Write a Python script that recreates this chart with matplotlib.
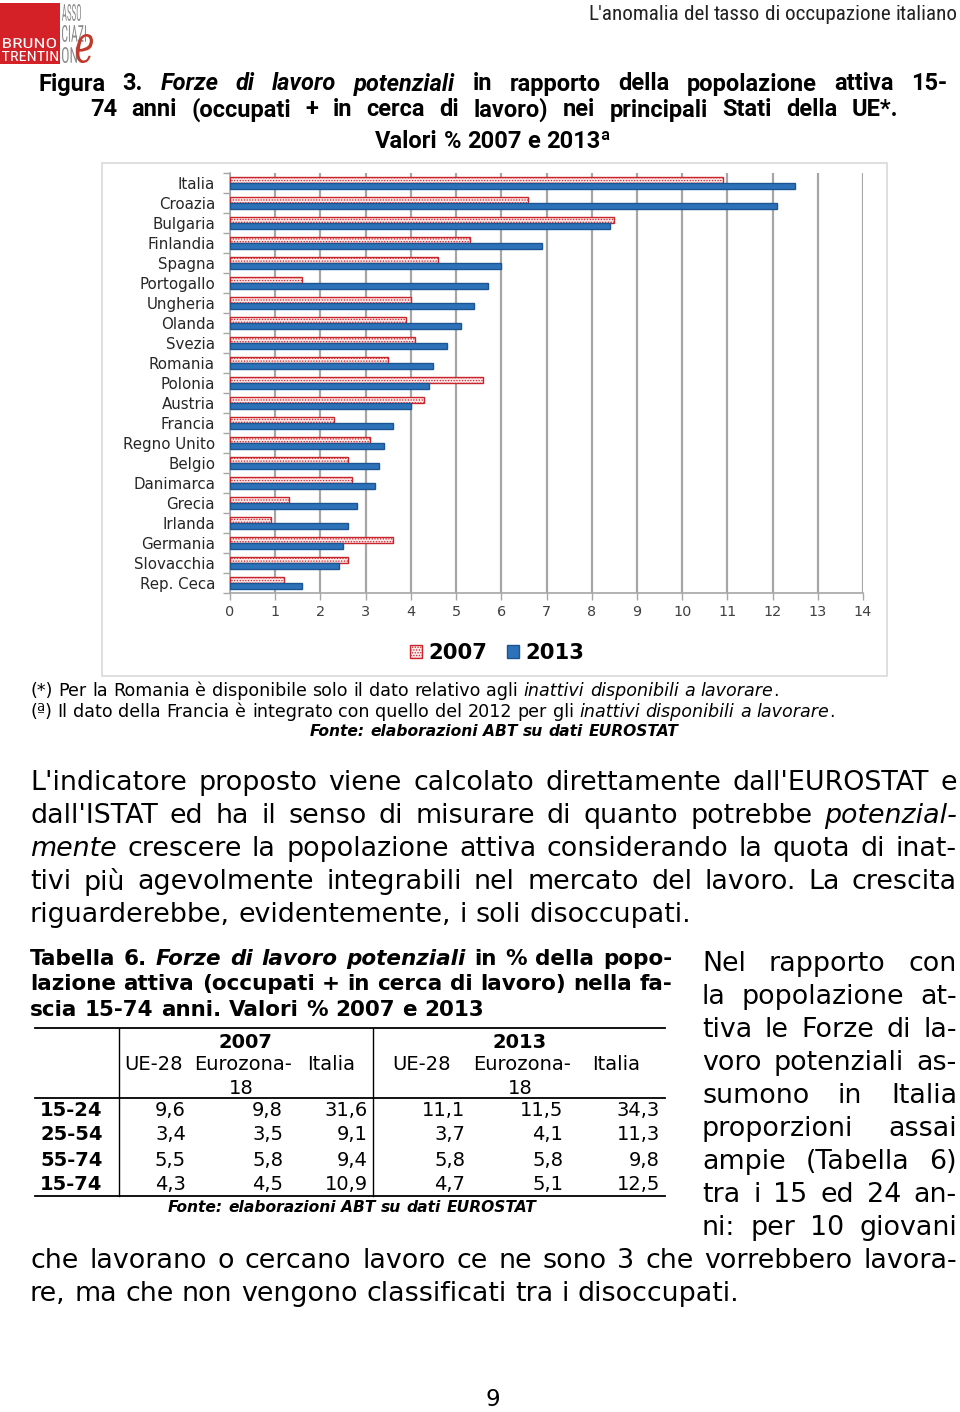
import matplotlib
matplotlib.use('Agg')
import matplotlib.pyplot as plt
from matplotlib import font_manager as fm
from matplotlib.patches import Rectangle, PathPatch
from matplotlib.textpath import TextPath
from matplotlib.transforms import Affine2D
import numpy as np

# ---------------- data ----------------
countries = ['Italia', 'Croazia', 'Bulgaria', 'Finlandia', 'Spagna', 'Portogallo',
             'Ungheria', 'Olanda', 'Svezia', 'Romania', 'Polonia', 'Austria',
             'Francia', 'Regno Unito', 'Belgio', 'Danimarca', 'Grecia', 'Irlanda',
             'Germania', 'Slovacchia', 'Rep. Ceca']
v2007 = [10.9, 6.6, 8.5, 5.3, 4.6, 1.6, 4.0, 3.9, 4.1, 3.5, 5.6, 4.3,
         2.3, 3.1, 2.6, 2.7, 1.3, 0.9, 3.6, 2.6, 1.2]
v2013 = [12.5, 12.1, 8.4, 6.9, 6.0, 5.7, 5.4, 5.1, 4.8, 4.5, 4.4, 4.0,
         3.6, 3.4, 3.3, 3.2, 2.8, 2.6, 2.5, 2.4, 1.6]
series_labels = ['2007', '2013']
xticks = list(range(0, 15))

age_groups = ['15-24', '25-54', '55-74', '15-74']
table_years = ['2007', '2013']
table_cols = ['UE-28', 'Eurozona-', 'Italia']
t2007_ue28 = [9.6, 3.4, 5.5, 4.3]
t2007_ez18 = [9.8, 3.5, 5.8, 4.5]
t2007_ita = [31.6, 9.1, 9.4, 10.9]
t2013_ue28 = [11.1, 3.7, 5.8, 4.7]
t2013_ez18 = [11.5, 4.1, 5.8, 5.1]
t2013_ita = [34.3, 11.3, 9.8, 12.5]

# ---------------- fonts ----------------
def available(name, **kw):
    try:
        fm.findfont(fm.FontProperties(family=name, **kw), fallback_to_default=False)
        return True
    except Exception:
        return False

NARROW = 'Roboto'
for cand in ['Liberation Sans Narrow', 'DejaVu Sans Condensed', 'Roboto Condensed',
             'Open Sans Condensed']:
    if available(cand):
        NARROW = cand
        break
TITLE = 'Roboto' if available('Roboto') else 'DejaVu Sans'
BODY = 'DejaVu Sans'

W, H = 960, 1412
fig = plt.figure(figsize=(W / 100, H / 100), dpi=100)
bg = fig.add_axes([0, 0, 1, 1], zorder=0)
bg.set_xlim(0, W)
bg.set_ylim(H, 0)
bg.axis('off')
renderer = fig.canvas.get_renderer()

_cache = {}
def tw(s, fs, family, weight='normal', style='normal'):
    key = (s, round(fs, 4), family, weight, style)
    if key not in _cache:
        t = bg.text(0, 0, s, fontsize=fs, family=family, weight=weight, style=style)
        _cache[key] = t.get_window_extent(renderer).width
        t.remove()
    return _cache[key]

def parse(line):
    words = []
    ital = False
    for raw in line.split():
        parts, buf = [], ''
        for ch in raw:
            if ch == '|':
                if buf:
                    parts.append((buf, ital))
                    buf = ''
                ital = not ital
            else:
                buf += ch
        if buf:
            parts.append((buf, ital))
        words.append(parts)
    return words

def word_widths(words, fs, family, weight):
    return [sum(tw(p, fs, family, weight, 'italic' if it else 'normal') for p, it in wd)
            for wd in words]

def space_w(fs, family, weight):
    return tw('a a', fs, family, weight) - tw('aa', fs, family, weight)

def line_width(line, fs, family, weight='normal'):
    words = parse(line)
    ws = word_widths(words, fs, family, weight)
    return sum(ws) + space_w(fs, family, weight) * (len(ws) - 1)

def fit_fs(line, target, family, weight='normal'):
    return 10.0 * target / line_width(line, 10.0, family, weight)

def draw_line(line, x, y, fs, family, weight='normal', just=None, ha='left',
              color='black'):
    words = parse(line)
    ws = word_widths(words, fs, family, weight)
    if just is not None and len(words) > 1:
        gap = (just - sum(ws)) / (len(words) - 1)
    else:
        gap = space_w(fs, family, weight)
    total = sum(ws) + gap * (len(ws) - 1)
    x0 = x if ha == 'left' else (x - total / 2 if ha == 'center' else x - total)
    for wd, w in zip(words, ws):
        xx = x0
        for p, it in wd:
            st = 'italic' if it else 'normal'
            bg.text(xx, y, p, fontsize=fs, family=family, weight=weight, style=st,
                    ha='left', va='center', color=color)
            xx += tw(p, fs, family, weight, st)
        x0 += w + gap

def box_text(s, x0, x1, ytop, ybot, color, family, weight='normal', style='normal'):
    tp = TextPath((0, 0), s, size=10,
                  prop=fm.FontProperties(family=family, weight=weight, style=style))
    ext = tp.get_extents()
    sx = (x1 - x0) / ext.width
    sy = (ybot - ytop) / ext.height
    tr = Affine2D().translate(-ext.x0, -ext.y0).scale(sx, -sy).translate(x0, ybot)
    bg.add_patch(PathPatch(tr.transform_path(tp), facecolor=color, edgecolor='none'))

# ---------------- logo & header ----------------
bg.add_patch(Rectangle((0, 3), 60, 61, facecolor='#d42127', edgecolor='none'))
box_text('BRUNO', 3, 56, 38, 48, 'white', NARROW)
box_text('TRENTIN', 2, 58, 51, 61, 'white', NARROW)
box_text('ASSO', 62, 81, 4, 21, '#8c8c8c', NARROW)
box_text('CIAZI', 62, 86, 25, 42, '#8c8c8c', NARROW)
box_text('ON', 62, 77, 47, 63, '#8c8c8c', NARROW)
box_text('e', 76, 93, 34, 63, '#c0392b', 'DejaVu Serif', style='italic')

hdr = "L'anomalia del tasso di occupazione italiano"
fs_h = fit_fs(hdr, 380, NARROW)
draw_line(hdr, 958, 14, fs_h * 0.97, NARROW, ha='right', color='#222222')

# ---------------- chart title ----------------
t1 = "Figura 3. |Forze di lavoro potenziali| in rapporto della popolazione attiva 15-"
t2 = "74 anni (occupati + in cerca di lavoro) nei principali Stati della UE*."
t3 = "Valori % 2007 e 2013ª"
fs_t = min(fit_fs(t1, 890, TITLE, 'bold'), 17.0)
draw_line(t1, 38, 84, fs_t, TITLE, 'bold', just=909)
draw_line(t2, 90, 110, fs_t, TITLE, 'bold', just=808)
draw_line(t3, 493, 141, fs_t, TITLE, 'bold', ha='center')

# ---------------- chart ----------------
bg.add_patch(Rectangle((102, 163), 785, 513, facecolor='none', edgecolor='#d9d9d9', lw=1.2))

ax = fig.add_axes([230 / W, 1 - 593 / H, (863 - 230) / W, (593 - 173) / H], zorder=2)
ax.patch.set_alpha(0)
plt.rcParams['hatch.linewidth'] = 0.6
y = np.arange(len(countries))
b1 = ax.barh(y - 0.15, v2007, height=0.3, color='#fde9e9', edgecolor='#c8262c',
             hatch='......', linewidth=1.0, label=series_labels[0], zorder=3)
b2 = ax.barh(y + 0.15, v2013, height=0.3, color='#2d72b8', edgecolor='#1b5593',
             linewidth=1.0, label=series_labels[1], zorder=3)
ax.set_xlim(0, 14)
ax.set_ylim(len(countries) - 0.5, -0.5)
ax.set_xticks(xticks)
ax.set_yticks(y)
fs_cat = fit_fs('Regno Unito', 92, BODY)
ax.set_yticklabels(countries, fontsize=fs_cat, color='#262626', family=BODY)
ax.set_yticks(np.arange(-0.5, len(countries)), minor=True)
ax.tick_params(axis='y', which='major', length=0, pad=10.8)
ax.tick_params(axis='y', which='minor', length=5, width=1, color='#a6a6a6', direction='out')
ax.tick_params(axis='x', length=5, width=1, color='#a6a6a6', labelsize=fs_cat * 0.95,
               labelcolor='#404040', pad=4)
ax.grid(axis='x', color='#a6a6a6', lw=1.6, zorder=0)
ax.set_axisbelow(True)
for s in ['top', 'right']:
    ax.spines[s].set_visible(False)
for s in ['left', 'bottom']:
    ax.spines[s].set_color('#a6a6a6')
    ax.spines[s].set_linewidth(1.2)

fig.legend([b1, b2], series_labels, loc='center',
           bbox_to_anchor=(497 / W, 1 - 653 / H), ncol=2, frameon=False,
           handlelength=0.6, handleheight=0.6, handletextpad=0.3, columnspacing=0.9,
           prop=fm.FontProperties(family=BODY, weight='bold', size=15.2))

# ---------------- footnotes ----------------
f1 = "(*) Per la Romania è disponibile solo il dato relativo agli |inattivi disponibili a lavorare|."
f2 = "(ª) Il dato della Francia è integrato con quello del 2012 per gli |inattivi disponibili a lavorare|."
f3 = "|Fonte: elaborazioni ABT su dati EUROSTAT|"
fs_f = fit_fs(f1, 747, BODY)
draw_line(f1, 30, 691, fs_f, BODY)
draw_line(f2, 30, 712, fs_f, BODY)
fs_f3 = fit_fs(f3, 368, BODY, 'bold')
draw_line(f3, 494, 732, fs_f3, BODY, 'bold', ha='center')

# ---------------- body paragraph ----------------
body = ["L'indicatore proposto viene calcolato direttamente dall'EUROSTAT e",
        "dall'ISTAT ed ha il senso di misurare di quanto potrebbe |potenzial-|",
        "|mente| crescere la popolazione attiva considerando la quota di inat-",
        "tivi più agevolmente integrabili nel mercato del lavoro. La crescita",
        "riguarderebbe, evidentemente, i soli disoccupati."]
fs_b = fit_fs(body[-1], 662, BODY)
for i, ln in enumerate(body):
    draw_line(ln, 30, 783 + 33 * i, fs_b, BODY, just=927 if i < 4 else None)

# ---------------- table title ----------------
tt = ["Tabella 6. |Forze di lavoro potenziali| in % della popo-",
      "lazione attiva (occupati + in cerca di lavoro) nella fa-",
      "scia 15-74 anni. Valori % 2007 e 2013"]
fs_tt = fit_fs(tt[-1], 456, BODY, 'bold')
for i, (ln, yy) in enumerate(zip(tt, [959, 984, 1010])):
    draw_line(ln, 30, yy, fs_tt, BODY, 'bold', just=642 if i < 2 else None)

# ---------------- table ----------------
lc = 'black'
bg.plot([35, 665], [1028, 1028], color=lc, lw=1.3)
bg.plot([35, 665], [1098, 1098], color=lc, lw=1.3)
bg.plot([35, 665], [1196, 1196], color=lc, lw=1.3)
bg.plot([119, 119], [1028, 1196], color=lc, lw=1.0)
bg.plot([373, 373], [1028, 1196], color=lc, lw=1.0)
fs_tab = fit_fs('UE-28', 58, BODY)
bg.text(245, 1042, table_years[0], fontsize=fs_tab, family=BODY, weight='bold', ha='center', va='center')
bg.text(520, 1042, table_years[1], fontsize=fs_tab, family=BODY, weight='bold', ha='center', va='center')
for cx, name in zip([153, 243, 331, 421, 522, 616], table_cols * 2):
    bg.text(cx, 1065, name, fontsize=fs_tab, family=BODY, ha='center', va='center')
for cx in [241, 520]:
    bg.text(cx, 1088, '18', fontsize=fs_tab, family=BODY, ha='center', va='center')
cols = [t2007_ue28, t2007_ez18, t2007_ita, t2013_ue28, t2013_ez18, t2013_ita]
rights = [186, 283, 368, 465, 563, 660]
rows_y = [1111, 1135, 1160, 1184]
for r, (g, yy) in enumerate(zip(age_groups, rows_y)):
    bg.text(40, yy, g, fontsize=fs_tab, family=BODY, weight='bold', ha='left', va='center')
    for c, xr in zip(cols, rights):
        bg.text(xr, yy, f"{c[r]:.1f}".replace('.', ','), fontsize=fs_tab, family=BODY,
                ha='right', va='center')
ft = "|Fonte: elaborazioni ABT su dati EUROSTAT|"
draw_line(ft, 352, 1208, fit_fs(ft, 367, BODY, 'bold'), BODY, 'bold', ha='center')

# ---------------- right column & closing text ----------------
col = ["Nel rapporto con", "la popolazione at-", "tiva le Forze di la-",
       "voro potenziali as-", "sumono in Italia", "proporzioni assai",
       "ampie (Tabella 6)", "tra i 15 ed 24 an-", "ni: per 10 giovani"]
for i, ln in enumerate(col):
    draw_line(ln, 702, 964 + 33 * i, fs_b, BODY, just=255)
closing = ["che lavorano o cercano lavoro ce ne sono 3 che vorrebbero lavora-",
           "re, ma che non vengono classificati tra i disoccupati."]
draw_line(closing[0], 30, 1261, fs_b, BODY, just=927)
draw_line(closing[1], 30, 1294, fs_b, BODY)

bg.text(493, 1399, '9', fontsize=fs_b * 0.85, family=BODY, ha='center', va='center')

fig.savefig('out.png', dpi=100, facecolor='white')
